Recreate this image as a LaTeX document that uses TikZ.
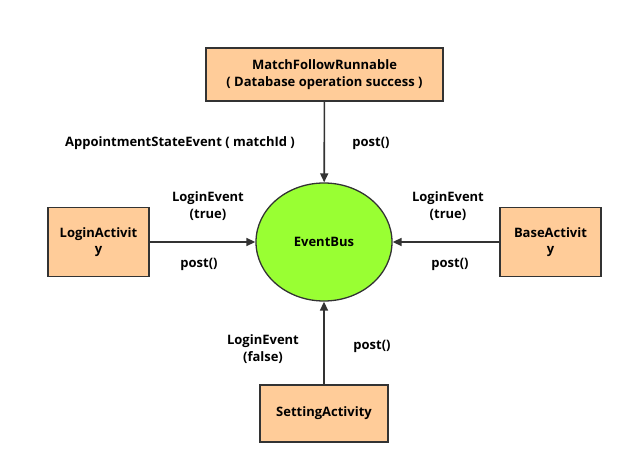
\documentclass[tikz,border=0pt]{standalone}
\usepackage{fontspec}
\setmainfont{Open Sans}
\usetikzlibrary{arrows.meta,shapes.geometric}
\definecolor{boxfill}{HTML}{FFCC99}
\definecolor{busfill}{HTML}{99FF33}
\definecolor{edge}{HTML}{333333}
\tikzset{
  txt/.style={font=\bfseries\fontsize{13}{16.5}\selectfont},
  box/.style={txt, draw=edge, line width=1.6pt, fill=boxfill, inner sep=0pt, align=center},
  bus/.style={txt, ellipse, draw=edge, line width=1.3pt, fill=busfill, inner sep=0pt, minimum width=136pt, minimum height=118pt},
  conn/.style={draw=edge, line width=1.6pt, -{Triangle[length=9pt,width=8pt]}},
  lbl/.style={txt, align=center, inner sep=0pt}
}
\begin{document}
\begin{tikzpicture}[x=1pt,y=-1pt]
\useasboundingbox (0,0) rectangle (633,474);
\node[box, minimum width=237pt, minimum height=53pt] (top) at (324.5,74.5) {MatchFollowRunnable\\( Database operation success )};
\node[box, minimum width=101pt, minimum height=69pt] (left) at (98.5,242) {LoginActivit\\y};
\node[box, minimum width=101pt, minimum height=69pt] (right) at (550.5,242) {BaseActivit\\y};
\node[box, minimum width=128pt, minimum height=57pt] (bottom) at (324,413.5) {SettingActivity};
\node[bus] (bus) at (324,242) {EventBus};
\draw[conn] (top) -- (bus);
\draw[conn] (left) -- (bus);
\draw[conn] (right) -- (bus);
\draw[conn] (bottom) -- (bus);
\node[lbl] (l1) at (180,143) {AppointmentStateEvent ( matchId )};
\node[lbl] (l2) at (371,143) {post()};
\node[lbl] (l3) at (208,206) {LoginEvent\\(true)};
\node[lbl] (l4) at (199,264) {post()};
\node[lbl] (l5) at (448,206) {LoginEvent\\(true)};
\node[lbl] (l6) at (450,264) {post()};
\node[lbl] (l7) at (263,349) {LoginEvent\\(false)};
\node[lbl] (l8) at (372,346) {post()};
\end{tikzpicture}
\end{document}
